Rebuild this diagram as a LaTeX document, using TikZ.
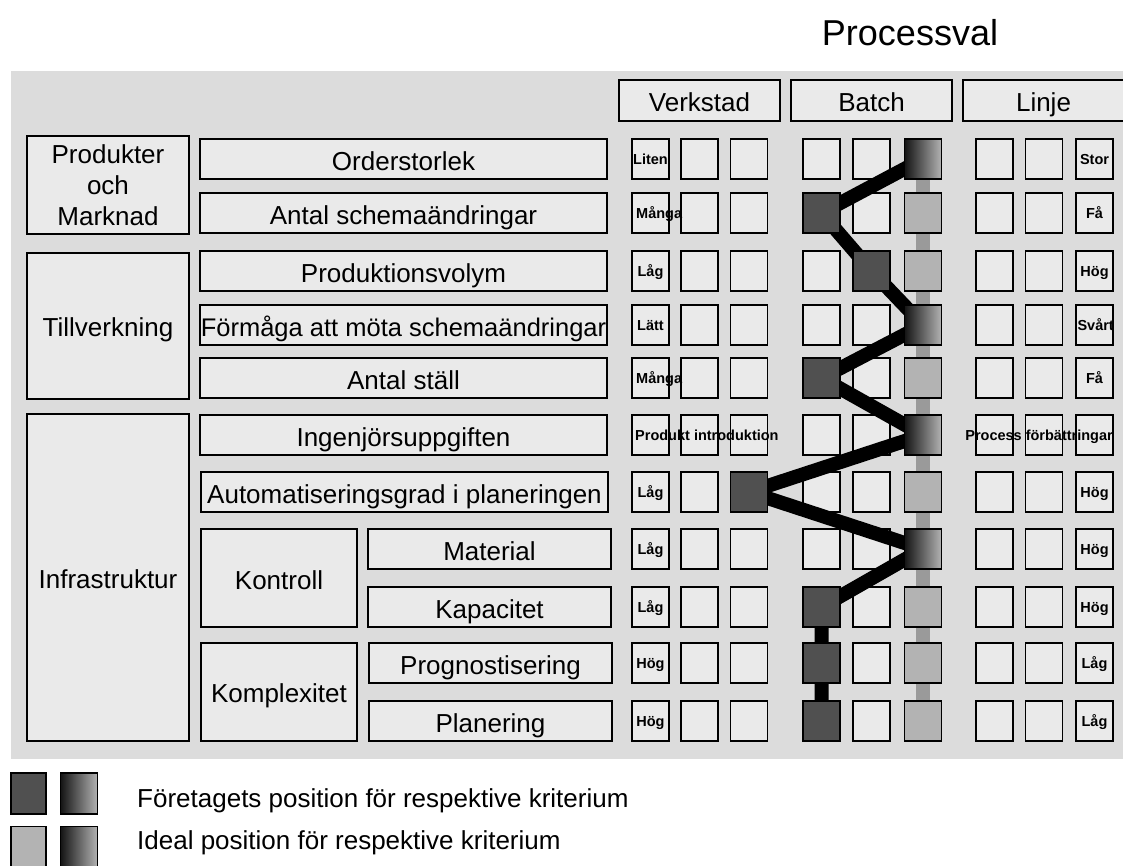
\documentclass[tikz,border=0pt]{standalone}
\usepackage{fontspec}
\setmainfont{Liberation Sans}
\definecolor{panelA}{HTML}{DCDCDC}
\definecolor{panelB}{HTML}{EAEAEA}
\definecolor{boxfill}{HTML}{EAEAEA}
\definecolor{darkfill}{HTML}{505050}
\definecolor{lightfill}{HTML}{B3B3B3}
\definecolor{gradA}{HTML}{141414}
\definecolor{idealline}{HTML}{9A9A9A}
\begin{document}
\begin{tikzpicture}[x=1pt,y=-1pt,
  lbl/.style={draw, line width=1.8pt, fill=boxfill, inner sep=0pt,
    font=\fontsize{26}{30.8}\selectfont, text height=23pt, text depth=0pt},
  grp/.style={draw, line width=1.8pt, fill=boxfill, inner sep=0pt,
    font=\fontsize{26}{30.8}\selectfont},
  cell/.style={draw, line width=1.8pt, fill=boxfill, inner sep=0pt,
    minimum width=37pt, minimum height=40pt},
  firm/.style={cell, fill=darkfill},
  ideal/.style={cell, fill=lightfill},
  both/.style={cell, left color=gradA, right color=lightfill},
  tag/.style={inner sep=0pt, font=\bfseries\fontsize{14.5}{16}\selectfont,
    text height=11.4pt, text depth=0pt},
  profile/.style={line width=14pt, black, line join=round},
  idealpath/.style={line width=14pt, idealline},
  legtext/.style={anchor=west, inner sep=0pt, font=\fontsize{26}{30}\selectfont}]
\useasboundingbox (0,0) rectangle (1123,865);
\clip (0,0) rectangle (1123,865);

% background panel
\fill[top color=panelA, middle color=panelB, bottom color=panelA] (11,71) rectangle (1123,758);

% title
\node[inner sep=0pt, font=\fontsize{36}{40}\selectfont] (title) at (910,33) {Processval};

% process headers
\node[lbl, minimum width=161pt, minimum height=41pt, text height=21pt] (hv) at (699.5,100.5) {Verkstad};
\node[lbl, minimum width=161pt, minimum height=41pt, text height=21pt] (hb) at (871.5,100.5) {Batch};
\node[lbl, minimum width=161pt, minimum height=41pt, text height=21pt] (hl) at (1043.5,100.5) {Linje};

% criteria groups
\node[grp, minimum width=162pt, minimum height=98pt, align=center] (pm) at (108,185) {Produkter\\och\\Marknad};
\node[lbl, minimum width=162pt, minimum height=146pt, text height=21pt] (tv) at (108,326) {Tillverkning};
\node[lbl, minimum width=162pt, minimum height=327pt, text height=21pt] (inf) at (108,577.5) {Infrastruktur};
\node[lbl, minimum width=156pt, minimum height=98pt, text height=22pt] (kon) at (279,578) {Kontroll};
\node[lbl, minimum width=156pt, minimum height=98pt, text height=21.5pt] (kom) at (279,692) {Komplexitet};

% criteria
\node[lbl, minimum width=407pt, minimum height=40pt] (k1) at (403.5,159) {Orderstorlek};
\node[lbl, minimum width=407pt, minimum height=40pt] (k2) at (403.5,213) {Antal schemaändringar};
\node[lbl, minimum width=407pt, minimum height=40pt] (k3) at (403.5,271) {Produktionsvolym};
\node[lbl, minimum width=407pt, minimum height=40pt] (k4) at (403.5,325) {\fontsize{25.5}{30}\selectfont Förmåga att möta schemaändringar};
\node[lbl, minimum width=407pt, minimum height=40pt] (k5) at (403.5,378) {Antal ställ};
\node[lbl, minimum width=407pt, minimum height=40pt] (k6) at (403.5,435) {Ingenjörsuppgiften};
\node[lbl, minimum width=407pt, minimum height=40pt] (k7) at (404.5,492) {Automatiseringsgrad i planeringen};
\node[lbl, minimum width=243pt, minimum height=40pt] (k8) at (489.5,549) {Material};
\node[lbl, minimum width=243pt, minimum height=40pt] (k9) at (489.5,607) {Kapacitet};
\node[lbl, minimum width=243pt, minimum height=40pt] (k10) at (490.5,663) {Prognostisering};
\node[lbl, minimum width=243pt, minimum height=40pt] (k11) at (490.5,721) {Planering};

% grid of positions
\foreach \yy [count=\r] in {159,213,271,325,378,435,492,549,607,663,721}{
  \foreach \xx [count=\c] in {650.5,699.5,749,821.5,871.5,923,994.5,1044,1094.5}{
    \node[cell] (s\r-\c) at (\xx,\yy) {};
  }
}

% ideal profile
\draw[idealpath] (s1-6.center) -- (s11-6.center);
% company profile
\draw[profile] (s1-6.center) -- (s2-4.center) -- (s3-5.center) -- (s4-6.center)
  -- (s5-4.center) -- (s6-6.center) -- (s7-3.center) -- (s8-6.center)
  -- (s9-4.center) -- (s10-4.center) -- (s11-4.center);

% marked positions
\node[both] (b1) at (s1-6) {};
\node[firm] (c2) at (s2-4) {};  \node[ideal] (d2) at (s2-6) {};
\node[firm] (c3) at (s3-5) {};  \node[ideal] (d3) at (s3-6) {};
\node[both] (b4) at (s4-6) {};
\node[firm] (c5) at (s5-4) {};  \node[ideal] (d5) at (s5-6) {};
\node[both] (b6) at (s6-6) {};
\node[firm] (c7) at (s7-3) {};  \node[ideal] (d7) at (s7-6) {};
\node[both] (b8) at (s8-6) {};
\node[firm] (c9) at (s9-4) {};  \node[ideal] (d9) at (s9-6) {};
\node[firm] (c10) at (s10-4) {}; \node[ideal] (d10) at (s10-6) {};
\node[firm] (c11) at (s11-4) {}; \node[ideal] (d11) at (s11-6) {};

% scale end labels
\node[tag] (v1) at (s1-1) {Liten};
\node[tag, anchor=west] (v2) at (636,213) {Många};
\node[tag] (v3) at (s3-1) {Låg};
\node[tag] (v4) at (s4-1) {Lätt};
\node[tag, anchor=west] (v5) at (636,378) {Många};
\node[tag, anchor=west] (v6) at (635,435) {Produkt introduktion};
\node[tag] (v7) at (s7-1) {Låg};
\node[tag] (v8) at (s8-1) {Låg};
\node[tag] (v9) at (s9-1) {Låg};
\node[tag] (v10) at (s10-1) {Hög};
\node[tag] (v11) at (s11-1) {Hög};

\node[tag] (l1) at (s1-9) {Stor};
\node[tag] (l2) at (s2-9) {Få};
\node[tag] (l3) at (s3-9) {Hög};
\node[tag, anchor=east] (l4) at (1114,325) {Svårt};
\node[tag] (l5) at (s5-9) {Få};
\node[tag, anchor=east] (l6) at (1113,435) {Process förbättringar};
\node[tag] (l7) at (s7-9) {Hög};
\node[tag] (l8) at (s8-9) {Hög};
\node[tag] (l9) at (s9-9) {Hög};
\node[tag] (l10) at (s10-9) {Låg};
\node[tag] (l11) at (s11-9) {Låg};

% legend
\node[firm, minimum width=35pt, minimum height=41pt] (lg1) at (28.5,793.5) {};
\node[both, minimum width=37pt, minimum height=41pt] (lg2) at (79,793.5) {};
\node[ideal, minimum width=35pt, minimum height=41pt] (lg3) at (28.5,847) {};
\node[both, minimum width=37pt, minimum height=41pt] (lg4) at (79,847) {};
\node[legtext] (lt1) at (137,801) {Företagets position för respektive kriterium};
\node[legtext] (lt2) at (137,843) {Ideal position för respektive kriterium};
\end{tikzpicture}
\end{document}
